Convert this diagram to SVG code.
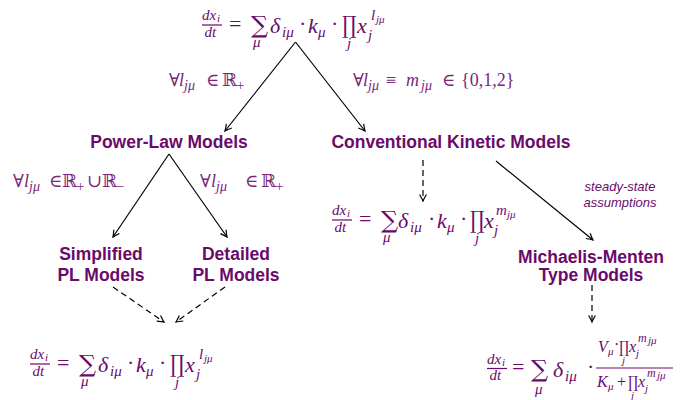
<svg xmlns="http://www.w3.org/2000/svg" width="688" height="400" viewBox="0 0 688 400">
<style>
.t{font-family:"Liberation Sans",Arial,sans-serif;font-weight:bold;font-size:17.5px;fill:#6a0a6a;text-anchor:middle}
.n{font-family:"Liberation Sans",Arial,sans-serif;font-style:italic;font-size:13px;fill:#6a0a6a;text-anchor:middle}
.m{font-family:"Liberation Serif","DejaVu Serif",serif;fill:#6a0a6a;font-size:22px}
.i{font-style:italic}
.s{font-size:15px}
.ss{font-size:11px}
.op{font-family:"DejaVu Serif",serif;font-size:24px}
.c{font-family:"Liberation Serif","DejaVu Serif",serif;fill:#7a267a;font-size:18px}
.cs{font-size:14px}
.bar{stroke:#6a0a6a;stroke-width:1.2}
.ln{stroke:#000;stroke-width:1.2;fill:none}
.d{stroke-dasharray:6 4}
</style>
<defs>
<marker id="ah" markerUnits="userSpaceOnUse" markerWidth="10" markerHeight="10" refX="0" refY="0" orient="auto" overflow="visible">
<path d="M-6.5,-3.4 Q-2,-0.8 0,0 Q-2,0.8 -6.5,3.4" fill="none" stroke="#000" stroke-width="1.2" stroke-dasharray="none"/>
</marker>
<g id="frac">
<text class="m i s" x="0" y="-5">dx</text><text class="m i ss" x="15" y="-3">i</text>
<line class="bar" x1="0" y1="0" x2="20" y2="0"/>
<text class="m i s" x="2.5" y="11.5">dt</text>
</g>
</defs>

<g id="connectors">
<line class="ln" x1="295.5" y1="42" x2="225" y2="131" marker-end="url(#ah)"/>
<line class="ln" x1="295.5" y1="42" x2="365" y2="131" marker-end="url(#ah)"/>
<line class="ln" x1="169" y1="154" x2="113" y2="237" marker-end="url(#ah)"/>
<line class="ln" x1="169" y1="154" x2="227" y2="237" marker-end="url(#ah)"/>
<line class="ln d" x1="113" y1="287" x2="164" y2="322" marker-end="url(#ah)"/>
<line class="ln d" x1="225" y1="287" x2="176" y2="322" marker-end="url(#ah)"/>
<line class="ln d" x1="423" y1="160" x2="423" y2="201" marker-end="url(#ah)"/>
<line class="ln" x1="496" y1="161" x2="593" y2="240" marker-end="url(#ah)"/>
<line class="ln d" x1="592" y1="285" x2="592" y2="322" marker-end="url(#ah)"/>
</g>

<g id="top-eq">
<use href="#frac" x="202" y="25"/>
<text class="m" x="229" y="31">=</text>
<text class="m op" x="251" y="33">∑</text>
<text class="m i s" x="253" y="47">μ</text>
<text class="m i" x="270" y="33">δ</text>
<text class="m i s" x="282" y="37">iμ</text>
<text class="m" x="299" y="31">·</text>
<text class="m i" x="308" y="33">k</text>
<text class="m i s" x="318" y="37">μ</text>
<text class="m" x="331" y="31">·</text>
<text class="m op" transform="translate(342,33) scale(0.75,1)">∏</text>
<text class="m i s" x="347" y="48">j</text>
<text class="m i" x="357" y="33">x</text>
<text class="m i s" x="368" y="40">j</text>
<text class="m i s" x="371" y="20">l</text>
<text class="m i ss" x="376" y="23">jμ</text>
</g>

<g id="cond-left">
<text class="c" y="86"><tspan x="169">∀</tspan><tspan class="i" x="179">l</tspan><tspan class="i cs" x="184" dy="4">jμ</tspan><tspan x="206" dy="-4">∈</tspan><tspan x="222">ℝ</tspan><tspan class="cs" x="236.5" dy="4">+</tspan></text>
</g>
<g id="cond-right">
<text class="c" y="86"><tspan x="353">∀</tspan><tspan class="i" x="363">l</tspan><tspan class="i cs" x="368" dy="4">jμ</tspan><tspan x="386" dy="-4">≡</tspan><tspan class="i" x="406">m</tspan><tspan class="i cs" x="421" dy="4">jμ</tspan><tspan x="442" dy="-4">∈</tspan><tspan x="461">{0,1,2}</tspan></text>
</g>

<g id="power-law"><text class="t" x="169" y="148">Power-Law Models</text></g>
<g id="conventional"><text class="t" x="451" y="148">Conventional Kinetic Models</text></g>

<g id="cond-pl-left">
<text class="c" y="187"><tspan x="13">∀</tspan><tspan class="i" x="24">l</tspan><tspan class="i cs" x="29" dy="4">jμ</tspan><tspan x="49" dy="-4">∈</tspan><tspan x="62">ℝ</tspan><tspan class="cs" x="76.5" dy="4">+</tspan><tspan x="87" dy="-4">∪</tspan><tspan x="102">ℝ</tspan><tspan class="cs" x="116.5" dy="4">−</tspan></text>
</g>
<g id="cond-pl-right">
<text class="c" y="187"><tspan x="200">∀</tspan><tspan class="i" x="211">l</tspan><tspan class="i cs" x="216" dy="4">jμ</tspan><tspan x="245" dy="-4">∈</tspan><tspan x="261">ℝ</tspan><tspan class="cs" x="275.5" dy="4">+</tspan></text>
</g>

<g id="mid-eq" transform="translate(130,195)">
<use href="#frac" x="202" y="25"/>
<text class="m" x="229" y="31">=</text>
<text class="m op" x="251" y="33">∑</text>
<text class="m i s" x="253" y="47">μ</text>
<text class="m i" x="268" y="33">δ</text>
<text class="m i s" x="280" y="37">iμ</text>
<text class="m" x="298" y="31">·</text>
<text class="m i" x="307" y="33">k</text>
<text class="m i s" x="317" y="37">μ</text>
<text class="m" x="330" y="31">·</text>
<text class="m op" transform="translate(340,33) scale(0.75,1)">∏</text>
<text class="m i s" x="345" y="48">j</text>
<text class="m i" x="354" y="33">x</text>
<text class="m i s" x="364" y="40">j</text>
<text class="m i s" x="366" y="20">m</text>
<text class="m i ss" x="377" y="23">jμ</text>
</g>

<g id="steady-state"><text class="n" x="620" y="191">steady-state</text><text class="n" x="620" y="207">assumptions</text></g>

<g id="simplified"><text class="t" x="101" y="260">Simplified</text><text class="t" x="101" y="281">PL Models</text></g>
<g id="detailed"><text class="t" x="236" y="260">Detailed</text><text class="t" x="236" y="281">PL Models</text></g>
<g id="michaelis"><text class="t" x="591" y="263">Michaelis-Menten</text><text class="t" x="591" y="281">Type Models</text></g>

<g id="bottom-left-eq" transform="translate(-172,339)">
<use href="#frac" x="202" y="25"/>
<text class="m" x="229" y="31">=</text>
<text class="m op" x="251" y="33">∑</text>
<text class="m i s" x="253" y="47">μ</text>
<text class="m i" x="270" y="33">δ</text>
<text class="m i s" x="282" y="37">iμ</text>
<text class="m" x="299" y="31">·</text>
<text class="m i" x="308" y="33">k</text>
<text class="m i s" x="318" y="37">μ</text>
<text class="m" x="331" y="31">·</text>
<text class="m op" transform="translate(342,33) scale(0.75,1)">∏</text>
<text class="m i s" x="347" y="48">j</text>
<text class="m i" x="357" y="33">x</text>
<text class="m i s" x="368" y="40">j</text>
<text class="m i s" x="371" y="20">l</text>
<text class="m i ss" x="376" y="23">jμ</text>
</g>

<g id="bottom-right-eq">
<use href="#frac" x="487" y="368.5"/>
<text class="m" x="512" y="374">=</text>
<text class="m op" x="531" y="377">∑</text>
<text class="m i s" x="535" y="394">μ</text>
<text class="m i" x="553" y="377">δ</text>
<text class="m i s" x="565" y="381">iμ</text>
<text class="m" x="587" y="374">·</text>
<line class="bar" x1="596" y1="368" x2="673" y2="368"/>
<text class="m i" style="font-size:16px" x="598" y="352">V</text>
<text class="m i ss" x="608" y="355">μ</text>
<text class="m" style="font-size:16px" x="614" y="350">·</text>
<text class="m op" style="font-size:17px" transform="translate(619,353) scale(0.75,1)">∏</text>
<text class="m i ss" x="622" y="364">j</text>
<text class="m i" style="font-size:16px" x="629" y="352">x</text>
<text class="m i ss" x="636" y="357">j</text>
<text class="m i" style="font-size:12px" x="638" y="342">m</text>
<text class="m i ss" x="648" y="344">jμ</text>
<text class="m i" style="font-size:16px" x="597" y="387">K</text>
<text class="m i ss" x="608" y="390">μ</text>
<text class="m" style="font-size:16px" x="617" y="387">+</text>
<text class="m op" style="font-size:17px" transform="translate(628,388) scale(0.75,1)">∏</text>
<text class="m i ss" x="631" y="399">j</text>
<text class="m i" style="font-size:16px" x="638" y="387">x</text>
<text class="m i ss" x="645" y="392">j</text>
<text class="m i" style="font-size:12px" x="647" y="377">m</text>
<text class="m i ss" x="657" y="379">jμ</text>
</g>
</svg>
